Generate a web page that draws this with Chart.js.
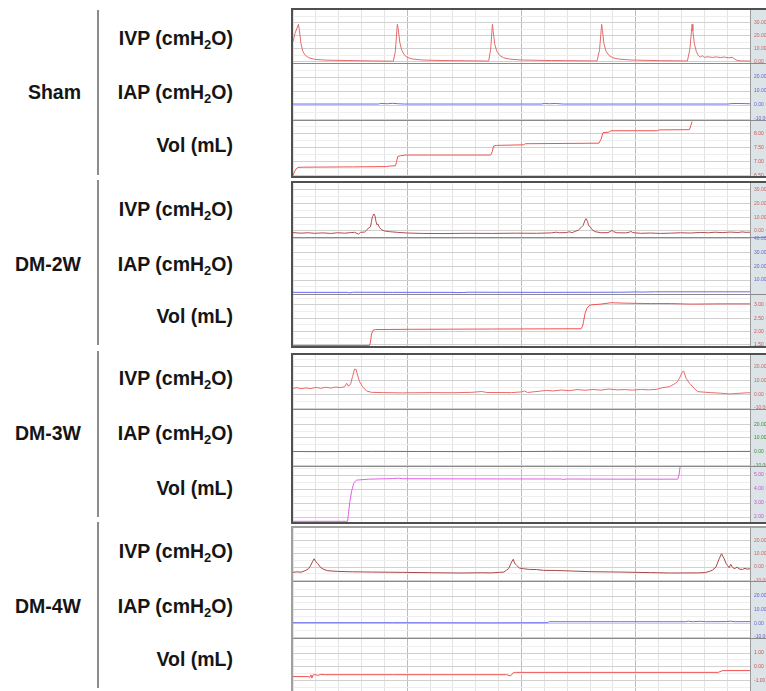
<!DOCTYPE html>
<html>
<head>
<meta charset="utf-8">
<script src="https://cdn.jsdelivr.net/npm/chart.js@4.4.1/dist/chart.umd.min.js"></script>
<style>
html,body{margin:0;padding:0;overflow:hidden;background:#fff;}
body{width:766px;height:691px;position:relative;font-family:"Liberation Sans",Arial,sans-serif;font-weight:bold;color:#151515;}
.grp{position:absolute;left:0;width:81px;text-align:right;font-size:19.5px;line-height:24px;white-space:nowrap;}
.sub{position:absolute;left:90px;width:143px;text-align:right;font-size:19.5px;line-height:24px;white-space:nowrap;}
.sub sub{font-size:13px;line-height:0;vertical-align:-4px;}
.bar{position:absolute;left:97px;width:1.5px;background:#8c8c8c;}
.panel{position:absolute;left:291px;width:480px;border:2px solid #505050;}
</style>
</head>
<body>

<div class="grp" style="top:80px">Sham</div>
<div class="grp" style="top:252px">DM-2W</div>
<div class="grp" style="top:421px">DM-3W</div>
<div class="grp" style="top:594px">DM-4W</div>

<div class="bar" style="top:10px;height:165px"></div>
<div class="bar" style="top:180px;height:165px"></div>
<div class="bar" style="top:351px;height:166px"></div>
<div class="bar" style="top:522px;height:166px"></div>

<div class="sub" style="top:26px">IVP (cmH<sub>2</sub>O)</div>
<div class="sub" style="top:80px">IAP (cmH<sub>2</sub>O)</div>
<div class="sub" style="top:133px">Vol (mL)</div>
<div class="sub" style="top:197px">IVP (cmH<sub>2</sub>O)</div>
<div class="sub" style="top:252px">IAP (cmH<sub>2</sub>O)</div>
<div class="sub" style="top:304px">Vol (mL)</div>
<div class="sub" style="top:366px">IVP (cmH<sub>2</sub>O)</div>
<div class="sub" style="top:421px">IAP (cmH<sub>2</sub>O)</div>
<div class="sub" style="top:476px">Vol (mL)</div>
<div class="sub" style="top:539px">IVP (cmH<sub>2</sub>O)</div>
<div class="sub" style="top:594px">IAP (cmH<sub>2</sub>O)</div>
<div class="sub" style="top:647px">Vol (mL)</div>

<div class="panel" style="top:8px;height:166px"><canvas id="c0"></canvas></div>
<div class="panel" style="top:181px;height:163px"><canvas id="c1"></canvas></div>
<div class="panel" style="top:353px;height:167px"><canvas id="c2"></canvas></div>
<div class="panel" style="top:526px;height:164px;border-color:#a0a0a0"><canvas id="c3"></canvas></div>

<script>
// time grid (recorder divisions)
const timeGrid = [0,23,46,69,92,115,138,161,184,207,230,253,276,299,322,345,368,391,414,437,460];
const timeMajor = [115,230,345];

// Sham
const shamIvp = [[0,15.6],[2,22],[5.5,29],[6.5,24],[8,14],[10,8],[12.5,5],[16,3.2],[22,2],[33,1.4],[55,1.1],[80,0.8],[100,0.6],
  [101,0.6],[103,8],[105,29],[106,25],[107.5,15],[109.5,9],[112,5.5],[115,3.5],[120,2.3],[130,1.5],[150,1.1],[175,0.9],[196,0.7],
  [197,0.8],[199,10],[200.7,29],[201.5,24],[203,14],[205,8.5],[208,5],[212,3.2],[218,2.2],[230,1.5],[260,1.1],[290,0.9],[305,0.8],
  [306,0.8],[308.5,9],[310.7,29],[311.5,24],[313,14],[315,8.5],[318,5],[322,3.2],[328,2.2],[340,1.5],[370,1.0],[395,0.8],
  [397,0.8],[399.5,10],[401.7,29],[402.5,24],[404,14],[406,8],[408,5],[410,3.8],[412,4.8],[414,3.6],[418,4],[422,3.5],[426,3.9],
  [430,3.4],[434,3.8],[438,3.2],[442,3.6],[446,1.5],[450,0.8],[460,0.7]];
const shamIap = [[0,0.7],[86,0.7],[88,1.1],[95,0.9],[100,1.2],[106,0.9],[112,0.7],[250,0.7],[253,1.1],[258,0.9],[264,1.1],[272,0.7],
  [438,0.7],[441,1.0],[447,1.1],[455,1.0],[460,0.9]];
const shamVol = [[0,6.48],[1.5,6.62],[3,6.72],[5,6.78],[10,6.79],[60,6.80],[94,6.81],[97,6.83],[103,6.84],[104,6.95],[105.5,7.18],
  [108,7.2],[113,7.23],[150,7.23],[199,7.23],[200.5,7.35],[202,7.56],[205,7.58],[232,7.6],[234,7.64],[308,7.66],[310,7.8],[312,8.04],
  [318,8.06],[320,8.11],[367,8.11],[368,8.14],[399,8.15],[400.5,8.3],[401.7,8.44]];

// DM-2W
const dm2Ivp = [[0,-1.2],[8,-1.6],[15,-1.3],[22,-1.7],[30,-1.4],[38,-1.8],[45,-1.3],[52,-1.6],[58,-1.2],[62,-1.0],[66,-2.3],[68,-1.0],
  [72,-0.8],[74,0.5],[76,2.2],[78,3.0],[79,7],[80,10.5],[81.5,12.4],[82.5,11],[83.5,7],[84.5,4.5],[85.5,5],[87,2.6],[89,1],[92,0],
  [97,-0.5],[105,-1.0],[115,-1.5],[130,-1.8],[150,-1.9],[175,-1.7],[200,-1.8],[225,-1.6],[245,-1.7],[260,-1.4],[265,-0.9],[268,-1.3],
  [275,-1.2],[278,-0.6],[281,-1.2],[284,-0.3],[287,0.5],[290,2.5],[292,4],[294,8],[295,9],[296.5,7],[297.5,4],[299,3.2],[301,1],
  [304,-0.5],[310,-1.3],[317,-1.2],[320,-0.2],[321,0.5],[322.5,-0.5],[326,-1.3],[335,-1.4],[339,-0.8],[340,-0.3],[342,-1.2],[350,-1.7],
  [360,-1.5],[370,-1.8],[380,-1.6],[390,-1.3],[400,-1.5],[410,-1.1],[418,-1.3],[425,-0.9],[432,-1.2],[440,-0.8],[448,-1.1],[452,-0.7],
  [456,-1.0],[460,-0.9]];
const dm2Iap = [[0,1.0],[55,1.0],[57,0.6],[60,1.1],[100,1.0],[160,1.0],[165,0.8],[172,0.9],[176,1.1],[250,1.0],[330,1.1],[345,1.3],
  [352,1.2],[365,1.4],[460,1.4]];
const dm2Vol = [[0,1.47],[77,1.47],[78,1.6],[79,1.9],[80.5,2.04],[83,2.07],[120,2.08],[200,2.09],[290,2.1],[291.5,2.2],[292.5,2.38],
  [294,2.69],[296,2.88],[298,2.96],[300,3.0],[310,3.03],[320,3.08],[340,3.06],[360,3.05],[380,3.05],[400,3.03],[430,3.04],[460,3.04]];

// DM-3W
const dm3Ivp = [[0,4.3],[4,4.8],[8,4.0],[13,4.6],[18,4.1],[23,5.0],[28,4.3],[33,5.1],[38,4.5],[43,5.2],[48,4.8],[52,5.5],[54,8],
  [56,5.8],[58,7.5],[60,13],[62,18.3],[63.5,18],[65,14],[67,9.1],[70,5.5],[74,2.4],[79,1.4],[90,1.2],[110,1.0],[140,1.2],[160,1.1],
  [180,1.4],[190,2.0],[195,1.3],[220,1.2],[230,1.7],[233,2.4],[236,1.3],[248,2.2],[255,2.8],[262,2.4],[270,3.1],[278,2.6],[286,3.4],
  [294,2.9],[302,3.5],[310,3.0],[318,3.8],[326,3.2],[334,3.4],[342,3.0],[350,3.5],[358,3.2],[366,3.6],[372,4.8],[379,5.5],[385,8],
  [387,9.2],[389,11.6],[392,16.4],[393.3,16.8],[395.7,11.6],[399,8],[404,4.3],[407.3,1.9],[420,1.2],[430,0.8],[440,0.2],[447,0.6],
  [455,1.0],[460,1.1]];
const dm3Iap = [[0,0.1],[30,0],[80,0.2],[130,0.1],[200,0],[260,0.2],[330,0.1],[400,0],[460,0.2]];
const dm3Vol = [[0,1.7],[55,1.7],[55.7,2.18],[57.3,3.13],[59,3.85],[61.3,4.46],[64,4.64],[76,4.71],[100,4.75],[106,4.78],[110,4.74],
  [170,4.73],[270,4.72],[272,4.69],[275,4.72],[330,4.71],[387.3,4.71],[388.5,5.0],[389.7,5.64]];

// DM-4W
const dm4Ivp = [[0,-4.0],[4,-3.6],[8,-3.9],[12,-2.8],[15.7,-1.3],[18,1.5],[19.5,3.8],[21.3,6.2],[23,4],[25,2.5],[28,-0.5],[31,-1.8],
  [35,-2.8],[45,-3.3],[60,-3.6],[80,-3.8],[110,-4.0],[140,-4.3],[170,-4.5],[190,-4.3],[200,-4.4],[208,-4.0],[212.3,-3.8],[215,-2.3],
  [217,-1.3],[219,2],[220,3.8],[221.7,5.8],[223,3],[225,1.3],[228,-0.8],[232,-1.3],[238,-1.8],[245,-1.9],[252,-2.5],[265,-2.6],
  [280,-3.0],[300,-3.5],[330,-3.8],[360,-4.2],[380,-4.5],[408,-4.4],[415,-4.2],[419,-3.3],[422,-2.5],[425.7,0],[429,6.2],[431.3,10],
  [434,6.2],[436,2.5],[437.3,1.3],[439,-0.5],[440.7,2.0],[442,0.3],[444,-1.3],[445.5,-0.8],[447.3,0],[449,-1.5],[452.3,-1.8],
  [455,-1.0],[457,-1.6],[460,-1.3]];
const dm4Iap = [[0,0.5],[100,0.5],[200,0.4],[256,0.5],[258,1.2],[330,1.2],[395,1.2],[398,1.6],[402,1.2],[410,1.5],[415,1.2],
  [436,1.3],[440,1.6],[445,1.2],[460,1.3]];
const dm4Vol = [[0,-0.73],[15,-0.73],[17,-0.78],[18,-0.6],[19,-0.84],[20,-0.62],[22,-0.58],[25,-0.64],[28,-0.57],[32,-0.59],[100,-0.59],
  [215,-0.59],[219,-0.68],[221.7,-0.45],[224,-0.42],[300,-0.42],[428,-0.42],[432,-0.30],[436,-0.29],[460,-0.29]];

// axis ranges and tick labels for each channel
const shamIvpRange = [-0.8, 40], shamIvpTicks = [0, 10, 20, 30];
const shamIapRange = [-10.7, 30], shamIapTicks = [-10, 0, 10, 20];
const shamVolRange = [6.47, 8.5], shamVolTicks = [6.5, 7.0, 7.5, 8.0];
const dm2IvpRange = [-4.4, 35], dm2IvpTicks = [0, 10, 20, 30];
const dm2IapRange = [-0.2, 41.4], dm2IapTicks = [10, 20, 30, 40];
const dm2VolRange = [1.45, 3.41], dm2VolTicks = [1.5, 2.0, 2.5, 3.0];
const dm3IvpRange = [-10.7, 28.5], dm3IvpTicks = [-10, 0, 10, 20];
const dm3IapRange = [-10.5, 31.2], dm3IapTicks = [-10, 0, 10, 20];
const dm3VolRange = [1.65, 5.65], dm3VolTicks = [2, 3, 4, 5];
const dm4IvpRange = [-10.5, 29.3], dm4IvpTicks = [-10, 0, 10, 20];
const dm4IapRange = [-10.7, 31], dm4IapTicks = [-10, 0, 10, 20];
const dm4VolRange = [-1.86, 2.1], dm4VolTicks = [-1, 0, 1];

Chart.defaults.font.family = "'Liberation Sans', Arial, sans-serif";

function withMinor(ticks, range){
  const step = ticks[1] - ticks[0];
  const out = ticks.slice();
  ticks.forEach(m => {
    [m - step/2, m + step/2].forEach(v => {
      if(v > range[0] && v < range[1] && !out.includes(v)) out.push(v);
    });
  });
  return out;
}

const recorder = {
  id: 'recorder',
  beforeDraw(chart){
    const {ctx, chartArea} = chart;
    ctx.save();
    ctx.fillStyle = '#dde4e7';
    ctx.fillRect(chartArea.right, 0, chart.width - chartArea.right, chart.height);
    ctx.restore();
  },
  afterDraw(chart){
    const ctx = chart.ctx;
    const ys = Object.values(chart.scales).filter(s => s.axis === 'y').sort((a, b) => a.top - b.top);
    ctx.save();
    ctx.strokeStyle = '#8a8a8a';
    ctx.lineWidth = 1.2;
    ys.slice(0, -1).forEach(s => {
      const y = Math.round(s.bottom) + 0.5;
      ctx.beginPath();
      ctx.moveTo(0, y);
      ctx.lineTo(chart.width, y);
      ctx.stroke();
    });
    ctx.restore();
  }
};

function makePanel(id, traces, weights){
  const scales = {
    x: {
      type: 'linear', min: 0, max: 460,
      ticks: {display: false},
      border: {display: false},
      grid: {drawTicks: false, color: c => timeMajor.includes(c.tick.value) ? '#bcbcbc' : '#e4e4e4'},
      afterBuildTicks: s => { s.ticks = timeGrid.map(v => ({value: v})); },
      afterFit: s => { s.height = 0; }
    }
  };
  const datasets = [];
  traces.forEach((t, i) => {
    const yid = 'y' + i;
    const all = withMinor(t.ticks, t.range);
    scales[yid] = {
      type: 'linear', position: 'right', stack: 'rec', stackWeight: weights[i],
      min: t.range[0], max: t.range[1],
      border: {display: true, color: '#9a9a9a'},
      grid: {drawTicks: false, color: c => t.ticks.includes(c.tick.value) ? '#d0d0d0' : '#eeeeee'},
      ticks: {
        autoSkip: false, padding: 4, color: t.label,
        font: {size: 5},
        callback: v => t.ticks.includes(v) ? v.toFixed(2) : ''
      },
      afterBuildTicks: s => { s.ticks = all.map(v => ({value: v})); },
      afterFit: s => { s.width = 23; s.paddingTop = 0; s.paddingBottom = 0; }
    };
    datasets.push({
      data: t.data, yAxisID: yid, xAxisID: 'x',
      borderColor: t.color, borderWidth: 1, pointRadius: 0, tension: 0
    });
  });

  new Chart(document.getElementById(id), {
    type: 'line',
    data: {datasets: datasets},
    options: {
      responsive: true,
      maintainAspectRatio: false,
      animation: false,
      events: [],
      layout: {padding: 0},
      parsing: true,
      plugins: {legend: {display: false}, tooltip: {enabled: false}},
      scales: scales
    },
    plugins: [recorder]
  });
}

makePanel('c0', [
  {data: shamIvp, range: shamIvpRange, ticks: shamIvpTicks, color: '#e26d6d', label: '#c86464'},
  {data: shamIap, range: shamIapRange, ticks: shamIapTicks, color: '#6a6af0', label: '#6464d0'},
  {data: shamVol, range: shamVolRange, ticks: shamVolTicks, color: '#f05252', label: '#d05050'}
], [53, 57, 56]);

makePanel('c1', [
  {data: dm2Ivp, range: dm2IvpRange, ticks: dm2IvpTicks, color: '#b44c4c', label: '#c86464'},
  {data: dm2Iap, range: dm2IapRange, ticks: dm2IapTicks, color: '#6a6af0', label: '#6464d0'},
  {data: dm2Vol, range: dm2VolRange, ticks: dm2VolTicks, color: '#f05252', label: '#d05050'}
], [54, 57, 52]);

makePanel('c2', [
  {data: dm3Ivp, range: dm3IvpRange, ticks: dm3IvpTicks, color: '#ea6a6a', label: '#c86464'},
  {data: dm3Iap, range: dm3IapRange, ticks: dm3IapTicks, color: '#4c8c4c', label: '#3c8a3c'},
  {data: dm3Vol, range: dm3VolRange, ticks: dm3VolTicks, color: '#e060e8', label: '#c050c8'}
], [54, 57, 56]);

makePanel('c3', [
  {data: dm4Ivp, range: dm4IvpRange, ticks: dm4IvpTicks, color: '#a84646', label: '#c86464'},
  {data: dm4Iap, range: dm4IapRange, ticks: dm4IapTicks, color: '#6a6af0', label: '#6464d0'},
  {data: dm4Vol, range: dm4VolRange, ticks: dm4VolTicks, color: '#f05252', label: '#d05050'}
], [53, 57, 54]);
</script>
</body>
</html>
